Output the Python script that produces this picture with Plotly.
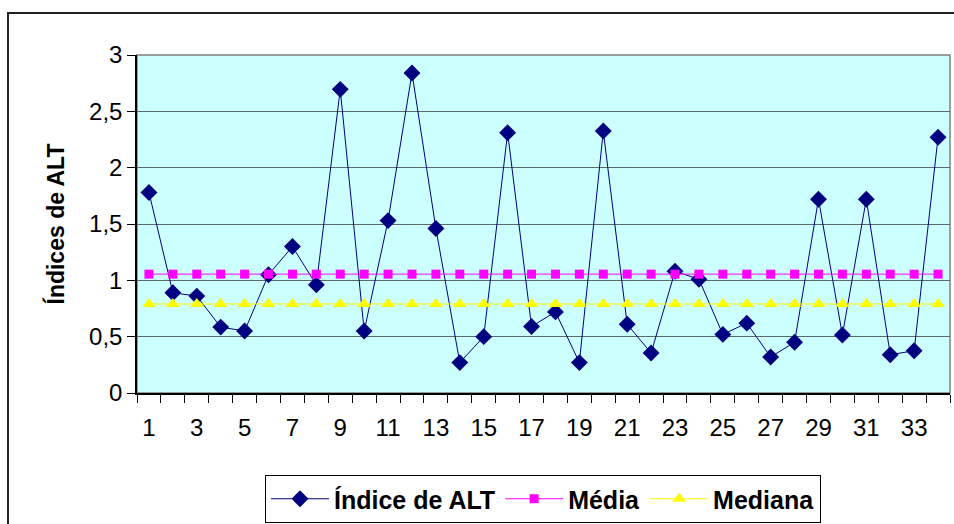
import plotly.graph_objects as go

# Sample numbers 1..34
amostras = list(range(1, 35))

# ALT index per sample
indice_alt = [1.78, 0.89, 0.86, 0.585, 0.55, 1.05, 1.30, 0.96, 2.695, 0.55,
              1.53, 2.84, 1.46, 0.27, 0.50, 2.31, 0.59, 0.72, 0.27, 2.325,
              0.61, 0.355, 1.08, 1.01, 0.52, 0.62, 0.32, 0.45, 1.72, 0.515,
              1.72, 0.34, 0.375, 2.27]

# Reference levels
media_valor = 1.055
mediana_valor = 0.79
media = [media_valor] * len(amostras)
mediana = [mediana_valor] * len(amostras)

y_ticks = [0, 0.5, 1, 1.5, 2, 2.5, 3]
x_labels = list(range(1, 35, 2))

FONT = "Liberation Sans, Arial, sans-serif"

fig = go.Figure()
fig.add_trace(go.Scatter(
    x=amostras, y=indice_alt, name="<b>Índice de ALT</b>", mode="lines+markers",
    line=dict(color="#000080", width=1),
    marker=dict(symbol="diamond", size=13, color="#000080"),
))
fig.add_trace(go.Scatter(
    x=amostras, y=media, name="<b>Média</b>", mode="lines+markers",
    line=dict(color="#FF00FF", width=1),
    marker=dict(symbol="square", size=9, color="#FF00FF"),
))
fig.add_trace(go.Scatter(
    x=amostras, y=mediana, name="<b>Mediana</b>", mode="lines+markers",
    line=dict(color="#FFFF00", width=1),
    marker=dict(symbol="triangle-up", size=12, color="#FFFF00"),
))

# plot area in pixels: left 137, right 950, top 55, bottom 393
L, R, T, B = 137, 950, 55, 393
W, H = 954, 524


def px(x):
    return (x - L) / (R - L)


def py(y):
    return (B - y) / (B - T)


fig.update_layout(
    width=W, height=H,
    margin=dict(l=L, r=W - R, t=T, b=H - B, autoexpand=False),
    paper_bgcolor="white",
    plot_bgcolor="#CCFFFF",
    separators=",.",
    font=dict(family=FONT, size=24, color="black"),
    showlegend=True,
    legend=dict(
        orientation="h", x=px(543), y=py(523), xanchor="center", yanchor="bottom",
        bordercolor="black", borderwidth=1, bgcolor="white",
        font=dict(family=FONT, size=25, color="black"),
        itemwidth=58, tracegroupgap=0,
    ),
    shapes=[
        # plot area frame
        dict(type="rect", xref="paper", yref="paper", x0=0, x1=1, y0=0, y1=1,
             line=dict(color="#808080", width=1.5), layer="below"),
        # chart outer frame
        dict(type="rect", xref="paper", yref="paper",
             x0=px(8), x1=px(1000), y0=py(600), y1=py(13),
             line=dict(color="#222222", width=2), fillcolor="rgba(0,0,0,0)"),
    ],
)

fig.update_xaxes(
    range=[0.5, 34.5], tickvals=x_labels, ticktext=[str(v) for v in x_labels],
    ticks="outside", ticklen=8, tickcolor="rgba(0,0,0,0)", ticklabelstandoff=4,
    showgrid=False, zeroline=False,
    showline=True, linecolor="black", linewidth=1.5,
    minor=dict(tick0=0.5, dtick=1, ticks="outside", ticklen=8,
               tickcolor="black", tickwidth=1, showgrid=False),
    tickfont=dict(family=FONT, size=24, color="black"),
)
fig.update_yaxes(
    range=[0, 3], tickvals=y_ticks,
    ticks="outside", ticklen=8, tickcolor="black", tickwidth=1,
    showgrid=True, gridcolor="#5a6a6a", gridwidth=1, zeroline=False,
    showline=True, linecolor="black", linewidth=1.5,
    tickfont=dict(family=FONT, size=24, color="black"),
    title=dict(text="<b>Índices de ALT</b>", standoff=18,
               font=dict(family=FONT, size=23, color="black")),
)

fig.write_html("out.html")
